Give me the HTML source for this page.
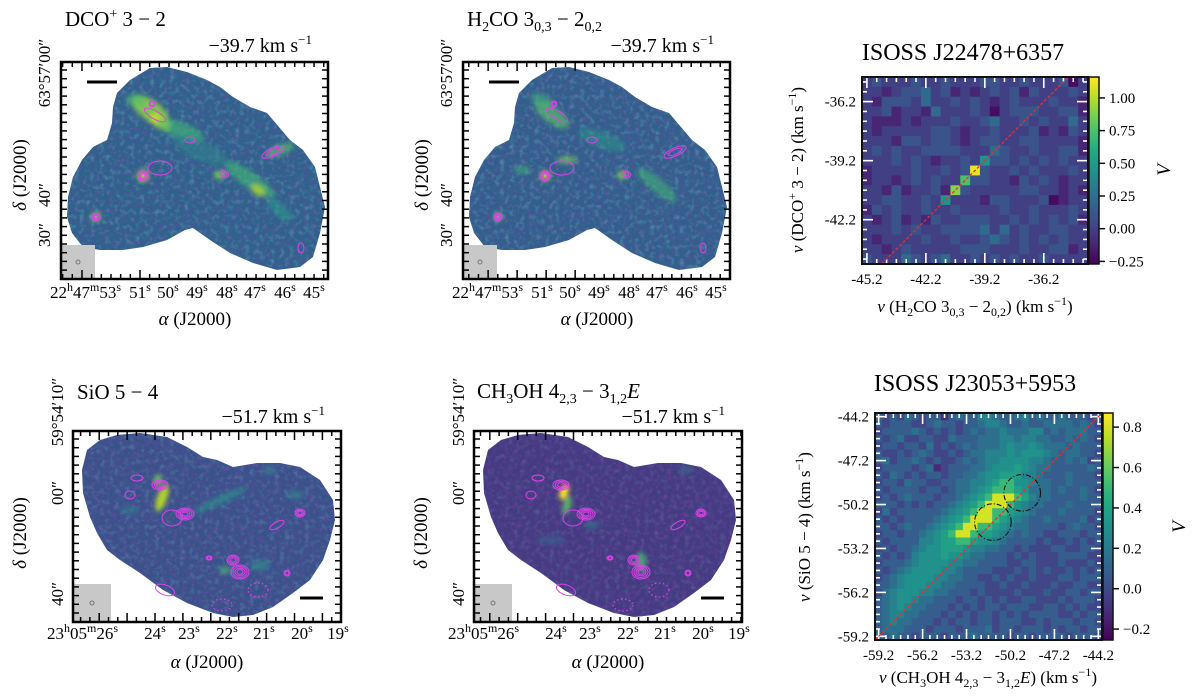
<!DOCTYPE html>
<html><head><meta charset="utf-8">
<style>
html,body{margin:0;padding:0;background:#fff;}
svg{display:block;font-family:"Liberation Serif",serif;}
</style></head>
<body>
<svg id="fig" width="1200" height="696" viewBox="0 0 1200 696" xmlns="http://www.w3.org/2000/svg">
<defs>
<filter id="noiseT" x="0" y="0" width="100%" height="100%"><feTurbulence type="fractalNoise" baseFrequency="0.2" numOctaves="2" seed="4"/><feColorMatrix type="matrix" values="0 0 0 0 0.16  0 0 0 0 0.5  0 0 0 0 0.55  0 0 0 1.6 -0.75"/></filter>
<filter id="noiseD" x="0" y="0" width="100%" height="100%"><feTurbulence type="fractalNoise" baseFrequency="0.22" numOctaves="2" seed="9"/><feColorMatrix type="matrix" values="0 0 0 0 0.27  0 0 0 0 0.05  0 0 0 0 0.42  0 0 0 1.6 -0.7"/></filter>
<filter id="blur2"><feGaussianBlur stdDeviation="2.5"/></filter>
<linearGradient id="viridisV" x1="0" y1="1" x2="0" y2="0">
<stop offset="0" stop-color="#440154"/><stop offset="0.1" stop-color="#482475"/><stop offset="0.2" stop-color="#414487"/><stop offset="0.3" stop-color="#355f8d"/><stop offset="0.4" stop-color="#2a788e"/><stop offset="0.5" stop-color="#21918c"/><stop offset="0.6" stop-color="#22a884"/><stop offset="0.7" stop-color="#44bf70"/><stop offset="0.8" stop-color="#7ad151"/><stop offset="0.9" stop-color="#bddf26"/><stop offset="1" stop-color="#fde725"/>
</linearGradient>
</defs>

<text x="65" y="26" font-size="21">DCO<tspan dy="-8" font-size="14">+</tspan><tspan dy="8"> 3 − 2</tspan></text>
<text x="312" y="52" font-size="20" text-anchor="end">−39.7 km s<tspan dy="-8" font-size="13">−1</tspan></text>
<text x="467" y="26" font-size="21">H<tspan dy="5" font-size="14">2</tspan><tspan dy="-5">CO 3</tspan><tspan dy="5" font-size="14">0,3</tspan><tspan dy="-5"> − 2</tspan><tspan dy="5" font-size="14">0,2</tspan></text>
<text x="714" y="52" font-size="20" text-anchor="end">−39.7 km s<tspan dy="-8" font-size="13">−1</tspan></text>
<text x="77" y="399" font-size="21">SiO 5 − 4</text>
<text x="325" y="423" font-size="20" text-anchor="end">−51.7 km s<tspan dy="-8" font-size="13">−1</tspan></text>
<text x="477" y="398" font-size="21">CH<tspan dy="5" font-size="14">3</tspan><tspan dy="-5">OH 4</tspan><tspan dy="5" font-size="14">2,3</tspan><tspan dy="-5"> − 3</tspan><tspan dy="5" font-size="14">1,2</tspan><tspan dy="-5" font-style="italic">E</tspan></text>
<text x="725" y="423" font-size="20" text-anchor="end">−51.7 km s<tspan dy="-8" font-size="13">−1</tspan></text>

<g font-size="17">
<text x="121" y="298" text-anchor="end">22<tspan dy="-7" font-size="12">h</tspan><tspan dy="7">47</tspan><tspan dy="-7" font-size="12">m</tspan><tspan dy="7">53</tspan><tspan dy="-7" font-size="12">s</tspan></text>
<text x="523" y="298" text-anchor="end">22<tspan dy="-7" font-size="12">h</tspan><tspan dy="7">47</tspan><tspan dy="-7" font-size="12">m</tspan><tspan dy="7">53</tspan><tspan dy="-7" font-size="12">s</tspan></text>
<text x="118" y="639" text-anchor="end">23<tspan dy="-7" font-size="12">h</tspan><tspan dy="7">05</tspan><tspan dy="-7" font-size="12">m</tspan><tspan dy="7">26</tspan><tspan dy="-7" font-size="12">s</tspan></text>
<text x="519" y="639" text-anchor="end">23<tspan dy="-7" font-size="12">h</tspan><tspan dy="7">05</tspan><tspan dy="-7" font-size="12">m</tspan><tspan dy="7">26</tspan><tspan dy="-7" font-size="12">s</tspan></text>
<text x="195" y="325" text-anchor="middle" font-size="19"><tspan font-style="italic">α</tspan> (J2000)</text>
<text x="597" y="325" text-anchor="middle" font-size="19"><tspan font-style="italic">α</tspan> (J2000)</text>
<text x="207" y="668" text-anchor="middle" font-size="19"><tspan font-style="italic">α</tspan> (J2000)</text>
<text x="608" y="668" text-anchor="middle" font-size="19"><tspan font-style="italic">α</tspan> (J2000)</text>
<text transform="translate(26,175) rotate(-90)" text-anchor="middle" font-size="19"><tspan font-style="italic">δ</tspan> (J2000)</text>
<text transform="translate(428,175) rotate(-90)" text-anchor="middle" font-size="19"><tspan font-style="italic">δ</tspan> (J2000)</text>
<text transform="translate(26,533) rotate(-90)" text-anchor="middle" font-size="19"><tspan font-style="italic">δ</tspan> (J2000)</text>
<text transform="translate(427,533) rotate(-90)" text-anchor="middle" font-size="19"><tspan font-style="italic">δ</tspan> (J2000)</text>
</g>

<text x="963" y="60" text-anchor="middle" font-size="24">ISOSS J22478+6357</text>
<text x="975" y="391" text-anchor="middle" font-size="24">ISOSS J23053+5953</text>
<text transform="translate(803,170) rotate(-90)" text-anchor="middle" font-size="17"><tspan font-style="italic">v</tspan> (DCO<tspan dy="-7" font-size="12">+</tspan><tspan dy="7"> 3 − 2) (km s</tspan><tspan dy="-7" font-size="12">−1</tspan><tspan dy="7">)</tspan></text>
<text x="975" y="312" text-anchor="middle" font-size="17"><tspan font-style="italic">v</tspan> (H<tspan dy="4" font-size="12">2</tspan><tspan dy="-4">CO 3</tspan><tspan dy="4" font-size="12">0,3</tspan><tspan dy="-4"> − 2</tspan><tspan dy="4" font-size="12">0,2</tspan><tspan dy="-4">) (km s</tspan><tspan dy="-7" font-size="12">−1</tspan><tspan dy="7">)</tspan></text>
<text transform="translate(810,527) rotate(-90)" text-anchor="middle" font-size="17"><tspan font-style="italic">v</tspan> (SiO 5 − 4) (km s<tspan dy="-7" font-size="12">−1</tspan><tspan dy="7">)</tspan></text>
<text x="988" y="683" text-anchor="middle" font-size="17"><tspan font-style="italic">v</tspan> (CH<tspan dy="4" font-size="12">3</tspan><tspan dy="-4">OH 4</tspan><tspan dy="4" font-size="12">2,3</tspan><tspan dy="-4"> − 3</tspan><tspan dy="4" font-size="12">1,2</tspan><tspan dy="-4" font-style="italic">E</tspan>) (km s<tspan dy="-7" font-size="12">−1</tspan><tspan dy="7">)</tspan></text>
<text transform="translate(1170,170) rotate(-90)" text-anchor="middle" font-size="19" font-style="italic">V</text>
<text transform="translate(1185,527) rotate(-90)" text-anchor="middle" font-size="19" font-style="italic">V</text>

<g id="dyn"></g>
</svg>
<script>
// ===== chart data (top-right: ISOSS J22478+6357) =====
const topXTicks = [-45.2, -42.2, -39.2, -36.2];
const topYTicks = [-42.2, -39.2, -36.2];
const topCbTicks = [1.00, 0.75, 0.50, 0.25, 0.00, -0.25];
const topLevels = [-0.22, -0.12, 0.0, 0.1, 0.22, 0.45, 0.6, 0.75, 0.9, 1.12];
const topRows = [
"23222322322233223222302",
"22123342312123231322232",
"21333242232321232223221",
"22312214222320233322331",
"21112122232234223232242",
"21222223321223222312132",
"22213323321233223322221",
"23232233332224322322331",
"22232321223253323232322",
"12222322323932232322232",
"12212323227332213232122",
"22131223183222223322121",
"22332232522213322230122",
"13232232232222322322232",
"21231213223332232323231",
"22232322333342423223322",
"21222232232234323232322",
"22123222223332223223312",
"32224323422323232232222"];
const topValues = topRows.map(s => s.split('').map(d => topLevels[Number(d)]));

// ===== chart data (bottom-right: ISOSS J23053+5953) =====
const botTicks = [-59.2, -56.2, -53.2, -50.2, -47.2, -44.2];
const botCbTicks = [0.8, 0.6, 0.4, 0.2, 0.0, -0.2];
const botLevels = [-0.22, -0.12, -0.02, 0.08, 0.16, 0.24, 0.31, 0.38, 0.5, 0.8];
const botRows = [
"3232432331343355433453433433323",
"3233322343323345543343344443432",
"2333343232323434454445534344433",
"3234223322433344455455443343432",
"2332332423234344456556544434333",
"3223234322323445556566654344332",
"3423343232234345566665543343423",
"2333323412333445666765443333343",
"3243232332334456677755433343332",
"2332433223344556788665443343333",
"3233332332344567888764443433432",
"2323433323345678999875443333433",
"3332323233456789998654433343333",
"2423333334567899887654333433332",
"3232333345678999876543343333423",
"3323433456789988765443333234332",
"2332334567899877654343322333233",
"3233335567788766543333232232323",
"2323345667776554433232223322332",
"3232356667665443332323222333322",
"2333456666554433332233222322232",
"3234566665543333222323232232323",
"2345666655443322323223222332333",
"3345666554433332232232223223322",
"2456665544333232222322232233233",
"3456654433323323232233222323332",
"3456544333232323323332233232322",
"3455443332323233232323333223233",
"3454433323233233233322323332332",
"3444333233323334233233323233233",
"3343323332333433332332333323332"];
const botValues = botRows.map(s => s.split('').map(d => botLevels[Number(d)]));
const botCircleCenters = [[-49.4, -49.4], [-51.4, -51.4]];

const NS = 'http://www.w3.org/2000/svg';
const dyn = document.getElementById('dyn');
function mk(tag, parent) { const e = document.createElementNS(NS, tag); (parent || dyn).appendChild(e); return e; }

const VIR = ['#440154','#482475','#414487','#355f8d','#2a788e','#21918c','#22a884','#44bf70','#7ad151','#bddf26','#fde725'];
function hex(h){return [parseInt(h.substr(1,2),16),parseInt(h.substr(3,2),16),parseInt(h.substr(5,2),16)];}
function viridis(t){
  t = Math.max(0, Math.min(1, t));
  const p = t * 10, i = Math.min(9, Math.floor(p)), f = p - i;
  const a = hex(VIR[i]), b = hex(VIR[i+1]);
  return 'rgb(' + a.map((v,k)=>Math.round(v+(b[k]-v)*f)).join(',') + ')';
}
function fmt(v, d){ const s = Math.abs(v).toFixed(d); return (v < 0 ? '−' : '') + s; }

function heatPanel(cfg){
  const g = mk('g');
  
  
  const xs = v => cfg.x0 + (v - cfg.xmin) / (cfg.xmax - cfg.xmin) * cfg.w;
  const ys = v => cfg.y0 + (cfg.ymax - v) / (cfg.ymax - cfg.ymin) * cfg.h;
  const cw = 0.5;
  cfg.values.forEach((row, r) => {
    row.forEach((v, c) => {
      const rc = mk('rect', g);
      
      
      const xa = xs(cfg.xmin + c * cw), xb = xs(cfg.xmin + (c + 1) * cw);
      const ya = ys(cfg.ymax - r * cw), yb = ys(cfg.ymax - (r + 1) * cw);
      rc.setAttribute('x', xa); rc.setAttribute('y', ya);
      rc.setAttribute('width', xb - xa + 0.4); rc.setAttribute('height', yb - ya + 0.4);
      rc.setAttribute('fill', viridis((v - cfg.vmin) / (cfg.vmax - cfg.vmin)));
    });
  });
  const tk = mk('g', g);
  tk.setAttribute('stroke', '#fff'); tk.setAttribute('stroke-width', '1.6');
  for (let v = cfg.ticks[0] - 6 * cw; v <= cfg.xmax; v += cw) {
    if (v < cfg.xmin) continue;
    const major = cfg.ticks.some(t => Math.abs(t - v) < 0.01);
    const L = major ? 11 : 5, x = xs(v);
    const a = mk('line', tk); a.setAttribute('x1', x); a.setAttribute('x2', x); a.setAttribute('y1', cfg.y0 + cfg.h); a.setAttribute('y2', cfg.y0 + cfg.h - L);
    const b = mk('line', tk); b.setAttribute('x1', x); b.setAttribute('x2', x); b.setAttribute('y1', cfg.y0); b.setAttribute('y2', cfg.y0 + L);
  }
  for (let v = cfg.yticks[0] - 6 * cw; v <= cfg.ymax; v += cw) {
    if (v < cfg.ymin) continue;
    const major = cfg.yticks.some(t => Math.abs(t - v) < 0.01);
    const L = major ? 11 : 5, y = ys(v);
    const a = mk('line', tk); a.setAttribute('y1', y); a.setAttribute('y2', y); a.setAttribute('x1', cfg.x0); a.setAttribute('x2', cfg.x0 + L);
    const b = mk('line', tk); b.setAttribute('y1', y); b.setAttribute('y2', y); b.setAttribute('x1', cfg.x0 + cfg.w); b.setAttribute('x2', cfg.x0 + cfg.w - L);
  }
  const lo = Math.max(cfg.xmin, cfg.ymin), hi = Math.min(cfg.xmax, cfg.ymax);
  const dl = mk('line', g);
  
  
  dl.setAttribute('x1', xs(lo)); dl.setAttribute('y1', ys(lo)); dl.setAttribute('x2', xs(hi)); dl.setAttribute('y2', ys(hi));
  dl.setAttribute('stroke', '#e8302a'); dl.setAttribute('stroke-width', '1.3'); dl.setAttribute('stroke-dasharray', '3,2');
  (cfg.circles || []).forEach(cc => {
    const ci = mk('ellipse', g);
    
    
    ci.setAttribute('cx', xs(cc[0])); ci.setAttribute('cy', ys(cc[1]));
    ci.setAttribute('rx', Math.abs(xs(cc[0] + 1.25) - xs(cc[0]))); ci.setAttribute('ry', Math.abs(ys(cc[1] + 1.25) - ys(cc[1])));
    ci.setAttribute('fill', 'none'); ci.setAttribute('stroke', '#111'); ci.setAttribute('stroke-width', '1.1'); ci.setAttribute('stroke-dasharray', '5,2,1,2');
  });
  const fr = mk('rect', g);
  
  
  fr.setAttribute('x', cfg.x0); fr.setAttribute('y', cfg.y0); fr.setAttribute('width', cfg.w); fr.setAttribute('height', cfg.h);
  fr.setAttribute('fill', 'none'); fr.setAttribute('stroke', '#111'); fr.setAttribute('stroke-width', '2');
  cfg.ticks.forEach(t => {
    const tx = mk('text', g);
    
    
    tx.setAttribute('x', xs(t)); tx.setAttribute('y', cfg.y0 + cfg.h + 20);
    tx.setAttribute('text-anchor', 'middle'); tx.setAttribute('font-size', '15');
    tx.textContent = t.toFixed(1);
  });
  cfg.yticks.forEach(t => {
    const tx = mk('text', g);
    
    
    tx.setAttribute('x', cfg.x0 - 6); tx.setAttribute('y', ys(t) + 5);
    tx.setAttribute('text-anchor', 'end'); tx.setAttribute('font-size', '15');
    tx.textContent = t.toFixed(1);
  });
  const cb = mk('rect', g);
  
  
  cb.setAttribute('x', cfg.cbx); cb.setAttribute('y', cfg.y0); cb.setAttribute('width', 10); cb.setAttribute('height', cfg.h);
  cb.setAttribute('fill', 'url(#viridisV)'); cb.setAttribute('stroke', '#111'); cb.setAttribute('stroke-width', '1.5');
  const cs = v => cfg.y0 + (cfg.vmax - v) / (cfg.vmax - cfg.vmin) * cfg.h;
  cfg.cbTicks.forEach(t => {
    const ln = mk('line', g);
    ln.setAttribute('x1', cfg.cbx + 10); ln.setAttribute('x2', cfg.cbx + 16); ln.setAttribute('y1', cs(t)); ln.setAttribute('y2', cs(t));
    ln.setAttribute('stroke', '#111'); ln.setAttribute('stroke-width', '1.5');
    const tx = mk('text', g);
    
    
    tx.setAttribute('x', cfg.cbx + 20); tx.setAttribute('y', cs(t) + 5); tx.setAttribute('font-size', '15');
    tx.textContent = fmt(t, cfg.cbDec);
  });
}

heatPanel({name:'heatmap-j22478', values: topValues, x0:862, y0:77, w:226, h:187, xmin:-45.45, xmax:-33.95, ymin:-44.45, ymax:-34.95,
  vmin:-0.27, vmax:1.16, ticks: topXTicks, yticks: topYTicks, cbTicks: topCbTicks, cbDec: 2, cbx: 1089});
heatPanel({name:'heatmap-j23053', values: botValues, x0:875, y0:413, w:227, h:227, xmin:-59.45, xmax:-43.95, ymin:-59.45, ymax:-43.95,
  vmin:-0.254, vmax:0.87, ticks: botTicks, yticks: botTicks, cbTicks: botCbTicks, cbDec: 1, cbx: 1103, circles: botCircleCenters});

const blobTop = [[117,93],[130,80],[150,68],[167,67],[187,72],[207,80],[220,87],[233,97],[250,107],[267,113],[273,120],[290,140],[303,150],[315,167],[320,187],[325,207],[320,233],[313,257],[300,267],[277,270],[253,263],[230,253],[210,240],[193,228],[185,230],[167,240],[143,247],[123,250],[100,250],[83,247],[72,233],[67,217],[68,197],[73,177],[82,160],[93,147],[107,140],[112,123],[113,107]];
const blobBot = [[87,450],[100,440],[117,435],[140,433],[167,437],[187,447],[203,457],[217,460],[233,467],[257,463],[280,463],[300,467],[320,480],[333,500],[335,520],[330,540],[323,560],[310,580],[293,593],[273,607],[253,615],[233,617],[213,613],[187,603],[163,590],[140,573],[120,560],[107,550],[97,533],[90,517],[83,493],[82,470]];

function mapPanel(p){
  const g = mk('g');
  
  
  const cid = p.name + '-clip';
  const cp = mk('clipPath', g); cp.setAttribute('id', cid);
  const poly = mk('polygon', cp);
  poly.setAttribute('points', p.blob.map(q => (q[0] + p.dx) + ',' + q[1]).join(' '));
  const inner = mk('g', g); inner.setAttribute('clip-path', 'url(#' + cid + ')');
  const base = mk('rect', inner);
  
  
  base.setAttribute('x', p.x0); base.setAttribute('y', p.y0); base.setAttribute('width', p.w); base.setAttribute('height', p.h); base.setAttribute('fill', p.base);
  const nd = mk('rect', inner); nd.setAttribute('x', p.x0); nd.setAttribute('y', p.y0); nd.setAttribute('width', p.w); nd.setAttribute('height', p.h); nd.setAttribute('filter', 'url(#noiseD)'); nd.setAttribute('opacity', '0.55');
  const nt = mk('rect', inner); nt.setAttribute('x', p.x0); nt.setAttribute('y', p.y0); nt.setAttribute('width', p.w); nt.setAttribute('height', p.h); nt.setAttribute('filter', 'url(#noiseT)'); nt.setAttribute('opacity', p.noise);
  const fg = mk('g', inner); fg.setAttribute('filter', 'url(#blur2)');
  p.features.forEach(f => {
    const e = mk('ellipse', fg);
    
    
    e.setAttribute('cx', f[0] + p.dx); e.setAttribute('cy', f[1]); e.setAttribute('rx', f[2]); e.setAttribute('ry', f[3]);
    e.setAttribute('transform', 'rotate(' + f[4] + ' ' + (f[0] + p.dx) + ' ' + f[1] + ')');
    e.setAttribute('fill', f[5]); e.setAttribute('opacity', f[6]);
  });
  p.contours.forEach(c => {
    for (let k = 0; k < c[5]; k++) {
      const s = 1 - k / (c[5] + 0.5);
      const e = mk('ellipse', g);
      
      
      e.setAttribute('cx', c[0] + p.dx); e.setAttribute('cy', c[1]); e.setAttribute('rx', c[2] * s); e.setAttribute('ry', c[3] * s);
      e.setAttribute('transform', 'rotate(' + c[4] + ' ' + (c[0] + p.dx) + ' ' + c[1] + ')');
      e.setAttribute('fill', 'none'); e.setAttribute('stroke', '#e040e8'); e.setAttribute('stroke-width', '1');
    }
  });
  (p.dotted || []).forEach(c => {
    const e = mk('ellipse', g);
    
    
    e.setAttribute('cx', c[0] + p.dx); e.setAttribute('cy', c[1]); e.setAttribute('rx', c[2]); e.setAttribute('ry', c[3]);
    e.setAttribute('fill', 'none'); e.setAttribute('stroke', '#e040e8'); e.setAttribute('stroke-width', '1.2'); e.setAttribute('stroke-dasharray', '1.5,2.5');
  });
  const bb = mk('rect', g);
  
  
  bb.setAttribute('x', p.x0); bb.setAttribute('y', p.y0 + p.h - p.beam); bb.setAttribute('width', p.beam); bb.setAttribute('height', p.beam); bb.setAttribute('fill', '#c8c8c8');
  const bc = mk('circle', g);
  
  
  bc.setAttribute('cx', p.x0 + p.beam / 2); bc.setAttribute('cy', p.y0 + p.h - p.beam / 2); bc.setAttribute('r', 2); bc.setAttribute('fill', 'none'); bc.setAttribute('stroke', '#777');
  const sb = mk('line', g);
  
  
  sb.setAttribute('x1', p.bar[0] + p.dx); sb.setAttribute('x2', p.bar[1] + p.dx); sb.setAttribute('y1', p.bar[2]); sb.setAttribute('y2', p.bar[2]); sb.setAttribute('stroke', '#000'); sb.setAttribute('stroke-width', '3');
  const tk = mk('g', g); tk.setAttribute('stroke', '#000'); tk.setAttribute('stroke-width', '1.5');
  for (let x = p.xMajor % p.xStep; x < p.x0 + p.w; x += p.xStep) {
    if (x <= p.x0 + 1) continue;
    const major = Math.abs(((x - p.xMajor) / p.xStep) % 3) < 0.01;
    const L = major ? 9 : 5;
    const a = mk('line', tk); a.setAttribute('x1', x); a.setAttribute('x2', x); a.setAttribute('y1', p.y0 + p.h); a.setAttribute('y2', p.y0 + p.h - L);
    const b = mk('line', tk); b.setAttribute('x1', x); b.setAttribute('x2', x); b.setAttribute('y1', p.y0); b.setAttribute('y2', p.y0 + L);
  }
  for (let y = p.y0 + 8; y < p.y0 + p.h; y += p.yStep) {
    const a = mk('line', tk); a.setAttribute('y1', y); a.setAttribute('y2', y); a.setAttribute('x1', p.x0); a.setAttribute('x2', p.x0 + 6);
    const b = mk('line', tk); b.setAttribute('y1', y); b.setAttribute('y2', y); b.setAttribute('x1', p.x0 + p.w); b.setAttribute('x2', p.x0 + p.w - 6);
  }
  const fr = mk('rect', g);
  
  
  fr.setAttribute('x', p.x0); fr.setAttribute('y', p.y0); fr.setAttribute('width', p.w); fr.setAttribute('height', p.h);
  fr.setAttribute('fill', 'none'); fr.setAttribute('stroke', '#000'); fr.setAttribute('stroke-width', '2.5');
  p.xLabels.forEach(l => {
    const t = mk('text', g);
    
    
    t.setAttribute('x', l[0] + p.dx); t.setAttribute('y', p.xlY); t.setAttribute('text-anchor', 'middle'); t.setAttribute('font-size', '17');
    t.textContent = l[1];
    const s = mk('tspan', t); s.setAttribute('dy', '-7'); s.setAttribute('font-size', '12'); s.textContent = 's';
  });
  p.yLabels.forEach(l => {
    const t = mk('text', g);
    
    
    t.setAttribute('transform', 'translate(' + (l[0] + p.dx) + ',' + l[1] + ') rotate(-90)');
    t.setAttribute('text-anchor', 'middle'); t.setAttribute('font-size', '17');
    t.textContent = l[2];
  });
}

const topXLabels = [[140,'51'],[168,'50'],[197,'49'],[227,'48'],[255,'47'],[285,'46'],[314,'45']];
const botXLabels = [[155,'24'],[189,'23'],[227,'22'],[264,'21'],[302,'20'],[338,'19']];
const topYLabels = [[50,73,'63°57′00″'],[50,195,'40″'],[50,235,'30″']];
const botYLabels = [[63,412,'59°54′10″'],[63,493,'00″'],[63,594,'40″']];

const dcoFeat = [[150,110,22,10,35,'#8fd744',0.8],[160,122,12,6,35,'#c8e020',0.85],[180,130,25,8,20,'#3fbc73',0.6],[250,180,30,8,35,'#3fbc73',0.6],[258,190,8,5,35,'#bddf26',0.7],[280,150,15,5,-20,'#5ec962',0.6],[143,176,6,6,0,'#a0da39',0.9],[96,217,5,5,0,'#7ad151',0.9],[220,175,6,4,0,'#7ad151',0.9],[280,210,15,6,40,'#2a9a8a',0.6],[200,150,30,10,25,'#2a8a8c',0.5],[135,100,10,6,0,'#44bf70',0.5]];
const h2coFeat = [[150,115,20,8,35,'#5ec962',0.6],[140,100,12,6,20,'#44bf70',0.5],[255,185,25,7,40,'#44bf70',0.5],[143,176,5,5,0,'#b5de2b',0.9],[96,217,4,4,0,'#7ad151',0.9],[165,160,10,4,0,'#7ad151',0.6],[220,175,5,4,0,'#7ad151',0.9],[120,170,8,4,0,'#44bf70',0.5],[200,140,25,8,20,'#2a9a8a',0.5]];
const topContours = [[152,104,3,3,0,2],[155,115,12,4,30,1],[190,140,5,3,0,1],[143,176,5,5,0,3],[160,168,12,7,0,1],[96,217,4,4,0,3],[224,174,5,3,15,2],[273,152,12,4,-25,2],[301,248,3,5,0,1]];
const sioFeat = [[162,498,5,14,20,'#bddf26',0.9],[158,480,4,6,0,'#7ad151',0.8],[220,500,30,4,-25,'#2a9a8a',0.6],[295,495,8,4,0,'#2a9a8a',0.5],[260,565,10,6,0,'#2a9a8a',0.5],[225,570,6,4,0,'#44bf70',0.6],[130,510,10,4,0,'#2a8a8c',0.5],[270,470,6,4,0,'#2a9a8a',0.5]];
const ch3ohFeat = [[163,492,4,8,20,'#fde725',1],[166,505,4,10,15,'#5ec962',0.8],[240,562,5,10,0,'#44bf70',0.8],[190,525,8,4,0,'#2a8a8c',0.5],[285,470,8,4,0,'#2a788e',0.5],[150,540,15,5,0,'#355f8d',0.6]];
const botContours = [[160,485,8,5,0,3],[185,514,9,6,0,4],[172,518,10,8,0,1],[130,495,5,4,0,1],[137,478,6,3,0,1],[233,560,6,5,0,3],[240,572,9,7,0,4],[300,513,5,4,0,3],[287,573,3,3,0,2],[277,525,8,3,-30,1],[209,558,3,2,0,2],[165,590,10,5,20,1]];
const botDotted = [[258,590,10,7],[222,605,10,6]];

const topCommon = {blob: blobTop, x0:61, y0:62, w:267, h:217, beam:34, xStep:9.67, xMajor:140, yStep:8.7, xlY:298, xLabels: topXLabels, yLabels: topYLabels, contours: topContours, bar:[87,117,82]};
mapPanel(Object.assign({}, topCommon, {name:'map-dco', dx:0, base:'#2f628c', noise:0.6, features: dcoFeat}));
mapPanel(Object.assign({}, topCommon, {name:'map-h2co', dx:402, x0:463, base:'#31608c', noise:0.6, features: h2coFeat}));
const botCommon = {blob: blobBot, x0:73, y0:431, w:268, h:191, beam:38, xStep:9.3, xMajor:155, yStep:8.7, xlY:639, xLabels: botXLabels, yLabels: botYLabels, contours: botContours, dotted: botDotted, bar:[300,323,598]};
mapPanel(Object.assign({}, botCommon, {name:'map-sio', dx:0, base:'#3a528b', noise:0.45, features: sioFeat}));
mapPanel(Object.assign({}, botCommon, {name:'map-ch3oh', dx:401, x0:474, base:'#443b82', noise:0.3, features: ch3ohFeat}));
</script>
</body></html>
